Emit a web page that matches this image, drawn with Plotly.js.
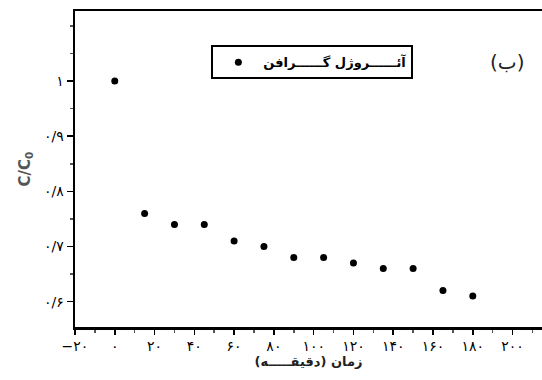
<!DOCTYPE html>
<html><head><meta charset="utf-8">
<script src="https://cdn.plot.ly/plotly-3.0.1.min.js"></script>
<style>html,body{margin:0;padding:0;background:#fff}</style>
</head><body>
<div id="chart" style="width:542px;height:380px"></div>
<script>
const timeMin = [0, 15, 30, 45, 60, 75, 90, 105, 120, 135, 150, 165, 180];
const ratio = [1.0, 0.76, 0.74, 0.74, 0.71, 0.70, 0.68, 0.68, 0.67, 0.66, 0.66, 0.62, 0.61];
const seriesName = "آئــــــروژل گــــــرافن";
const xTickVals = [-20, 0, 20, 40, 60, 80, 100, 120, 140, 160, 180, 200];
const xTickText = ["−۲۰", "۰", "۲۰", "۴۰", "۶۰", "۸۰", "۱۰۰", "۱۲۰", "۱۴۰", "۱۶۰", "۱۸۰", "۲۰۰"];
const yTickVals = [0.6, 0.7, 0.8, 0.9, 1.0];
const yTickText = ["۰/۶", "۰/۷", "۰/۸", "۰/۹", "۱"];
const xTitle = "زمان (دقیقـــــه)";
const yTitle = "C/C<sub>0</sub>";
const panelLabel = "(ب)";

const font = "DejaVu Sans, sans-serif";
Plotly.newPlot("chart", [{
  x: timeMin, y: ratio, type: "scatter", mode: "markers", name: seriesName,
  marker: {color: "#000", size: 7},
  showlegend: true
}], {
  width: 542, height: 380,
  margin: {l: 75, r: 0, t: 11, b: 53},
  paper_bgcolor: "#fff", plot_bgcolor: "#fff",
  font: {family: font, color: "#000", size: 13},
  xaxis: {
    range: [-20, 214.8], tickvals: xTickVals, ticktext: xTickText,
    showgrid: false, zeroline: false,
    showline: true, linecolor: "#000", linewidth: 2.5, mirror: true,
    ticks: "outside", ticklen: 5, tickwidth: 1.5, tickcolor: "#000",
    minor: {dtick: 10, ticks: "outside", ticklen: 3, tickcolor: "#555"},
    tickfont: {size: 14, family: font},
    title: {text: xTitle, font: {size: 13, family: font, weight: "bold", color: "#222"}, standoff: 4}
  },
  yaxis: {
    range: [0.554, 1.127], tickvals: yTickVals, ticktext: yTickText,
    showgrid: false, zeroline: false,
    showline: true, linecolor: "#000", linewidth: 2.5, mirror: false,
    ticks: "outside", ticklen: 6, tickwidth: 1.5, tickcolor: "#000",
    minor: {dtick: 0.05, ticks: "outside", ticklen: 3, tickcolor: "#555"},
    tickfont: {size: 14, family: font},
    title: {text: yTitle, font: {size: 15, family: font, weight: "bold", color: "#555"}, standoff: 10}
  },
  legend: {
    x: 0.292, y: 0.838, xanchor: "left", yanchor: "middle",
    bordercolor: "#000", borderwidth: 2, bgcolor: "#fff",
    itemwidth: 40,
    font: {size: 13, family: font, weight: "bold"}
  },
  annotations: [{
    text: panelLabel, xref: "paper", yref: "paper", x: 0.925, y: 0.84,
    xanchor: "center", yanchor: "middle", showarrow: false,
    font: {size: 20, family: font, color: "#222"}
  }]
}, {displayModeBar: false, staticPlot: true});
</script>
</body></html>
